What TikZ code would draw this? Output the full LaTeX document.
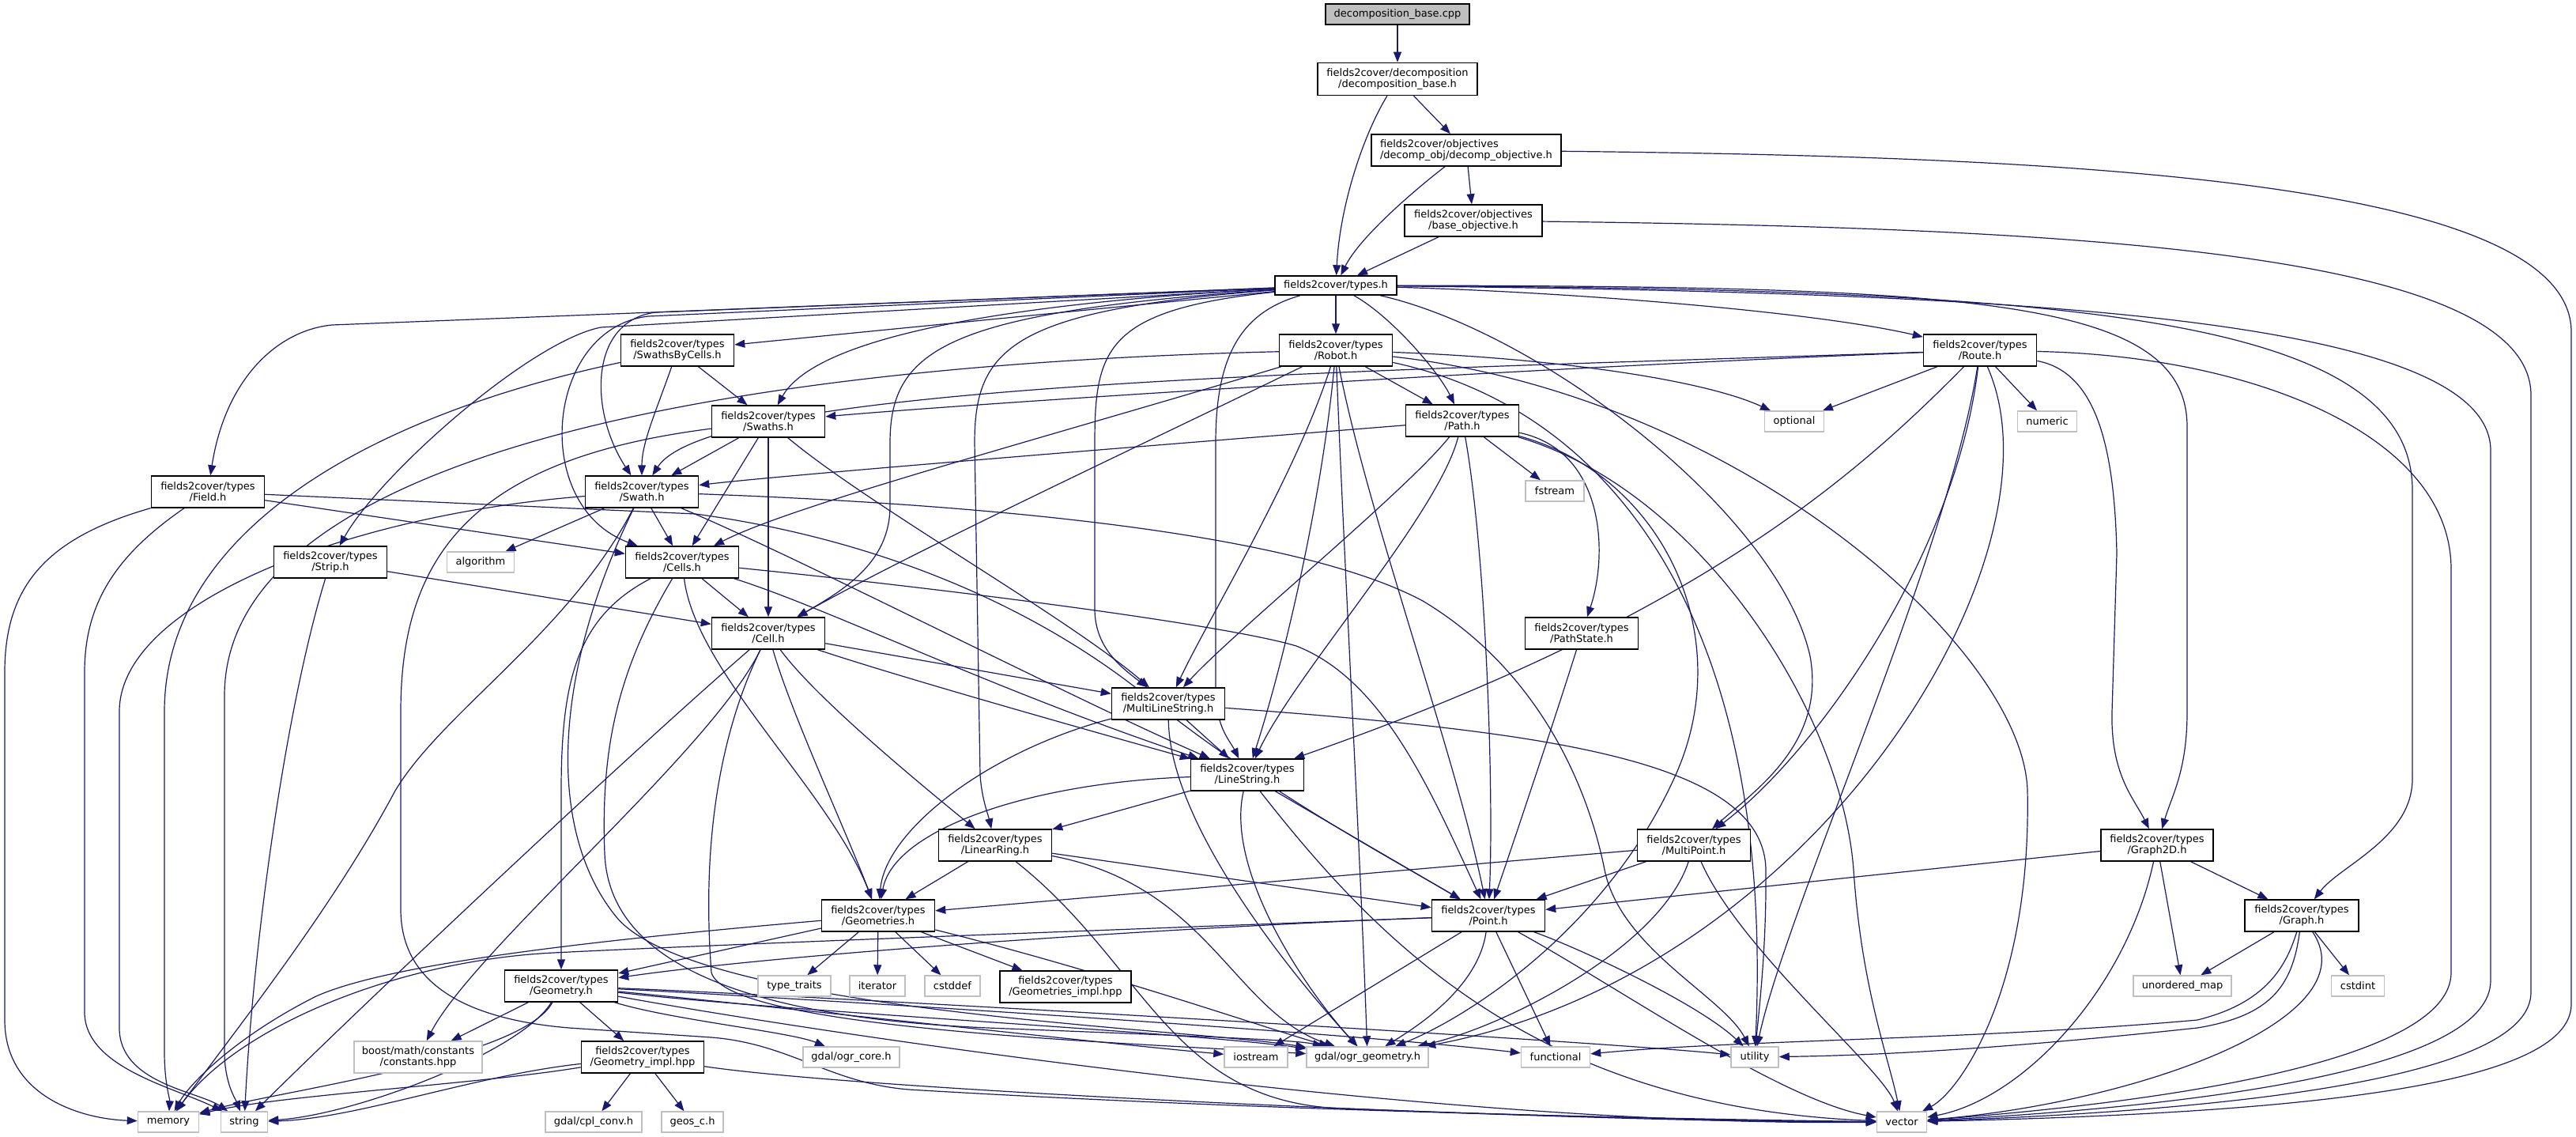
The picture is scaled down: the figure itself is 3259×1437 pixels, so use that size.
\documentclass[tikz,border=0pt]{standalone}
\usepackage{fontspec}
\setmainfont{DejaVu Sans}
\usetikzlibrary{arrows.meta}
\definecolor{edgeblue}{HTML}{191970}
\definecolor{extgray}{HTML}{BFBFBF}
\newcommand\nodefont{\fontsize{13pt}{14.5pt}\selectfont}
\pgfdeclarelayer{edgelayer}
\pgfsetlayers{edgelayer,main}
\begin{document}
\begin{tikzpicture}[x=1pt,y=-1pt,
  hdr/.style={draw=black,line width=1.5pt,fill=white,inner sep=0pt,minimum width=143pt,minimum height=40pt,align=center,font=\nodefont},
  ext/.style={draw=extgray,line width=1.5pt,fill=white,inner sep=0pt,minimum height=26pt,align=center,font=\nodefont},
  dep/.style={draw=edgeblue,line width=1.2pt,-{Triangle[length=13pt,width=10pt]}}]
\useasboundingbox (0,0) rectangle (3259,1437);
% nodes
\node[hdr,fill=extgray,minimum width=182pt,minimum height=26pt] (cpp) at (1768,18) {decomposition\_base.cpp};
\node[hdr,minimum width=202pt,minimum height=41pt] (dbh) at (1768,100) {fields2cover/decomposition\\/decomposition\_base.h};
\node[hdr,minimum width=240pt,align=left] (dobj) at (1855,190) {fields2cover/objectives\\/decomp\_obj/decomp\_objective.h};
\node[hdr,minimum width=174pt] (bobj) at (1864,279) {fields2cover/objectives\\/base\_objective.h};
\node[hdr,minimum width=154pt,minimum height=24pt] (types) at (1690,361) {fields2cover/types.h};
\node[hdr] (robot) at (1690,443) {fields2cover/types\\/Robot.h};
\node[hdr] (pth) at (1850,532) {fields2cover/types\\/Path.h};
\node[ext,minimum width=74pt] (fstream) at (1967,621) {fstream};
\node[hdr] (sbc) at (857,443) {fields2cover/types\\/SwathsByCells.h};
\node[hdr] (swaths) at (972,533) {fields2cover/types\\/Swaths.h};
\node[hdr] (field) at (263,622) {fields2cover/types\\/Field.h};
\node[hdr] (swath) at (812,622) {fields2cover/types\\/Swath.h};
\node[hdr] (strip) at (418,711) {fields2cover/types\\/Strip.h};
\node[ext,minimum width=85pt] (algorithm) at (608,711) {algorithm};
\node[hdr] (cells) at (863,711) {fields2cover/types\\/Cells.h};
\node[hdr] (cell) at (972,801) {fields2cover/types\\/Cell.h};
\node[hdr] (route) at (2505,443) {fields2cover/types\\/Route.h};
\node[ext,minimum width=75pt] (optional) at (2270,533) {optional};
\node[ext,minimum width=75pt] (numeric) at (2590,533) {numeric};
\node[hdr] (mls) at (1478,890) {fields2cover/types\\/MultiLineString.h};
\node[hdr] (pathstate) at (2001,801) {fields2cover/types\\/PathState.h};
\node[hdr] (ls) at (1578,980) {fields2cover/types\\/LineString.h};
\node[hdr] (lr) at (1259,1069) {fields2cover/types\\/LinearRing.h};
\node[hdr] (mp) at (2143,1069) {fields2cover/types\\/MultiPoint.h};
\node[hdr] (geoms) at (1111,1158) {fields2cover/types\\/Geometries.h};
\node[hdr] (point) at (1883,1158) {fields2cover/types\\/Point.h};
\node[ext,minimum width=92pt] (typetraits) at (1005,1247) {type\_traits};
\node[ext,minimum width=70pt] (iterator) at (1110,1247) {iterator};
\node[ext,minimum width=70pt] (cstddef) at (1205,1247) {cstddef};
\node[hdr,minimum width=166pt] (gimpl) at (1348,1248) {fields2cover/types\\/Geometries\_impl.hpp};
\node[ext,minimum width=122pt] (ogrcore) at (1077,1337) {gdal/ogr\_core.h};
\node[ext,minimum width=80pt] (iostream) at (1589,1337) {iostream};
\node[ext,minimum width=154pt] (ogrgeom) at (1730,1337) {gdal/ogr\_geometry.h};
\node[ext,minimum width=87pt] (functional) at (1968,1337) {functional};
\node[ext,minimum width=60pt] (util) at (2220,1337) {utility};
\node[ext,minimum width=63pt] (vec) at (2406,1419) {vector};
\node[hdr,minimum width=142pt] (graph2d) at (2729,1069) {fields2cover/types\\/Graph2D.h};
\node[hdr,minimum width=144pt] (graph) at (2912,1158) {fields2cover/types\\/Graph.h};
\node[ext,minimum width=124pt] (umap) at (2761,1247) {unordered\_map};
\node[ext,minimum width=67pt] (cstdint) at (2983,1247) {cstdint};
\node[hdr] (geometry) at (710,1247) {fields2cover/types\\/Geometry.h};
\node[ext,minimum width=162pt,minimum height=40pt] (boost) at (529,1337) {boost/math/constants\\/constants.hpp};
\node[hdr,minimum width=155pt] (gimplhpp) at (813,1337) {fields2cover/types\\/Geometry\_impl.hpp};
\node[ext,minimum width=77pt] (mem) at (213,1419) {memory};
\node[ext,minimum width=59pt] (strg) at (309,1419) {string};
\node[ext,minimum width=122pt] (cplconv) at (751,1419) {gdal/cpl\_conv.h};
\node[ext,minimum width=78pt] (geosc) at (876,1419) {geos\_c.h};
\begin{pgfonlayer}{edgelayer}
\fill[white] (0,0) rectangle (3259,1437);
% top
\draw[dep] (cpp) -- (dbh);
\draw[dep] (dbh) .. controls (1725,170) and (1695,260) .. (types);
\draw[dep] (dbh) -- (dobj);
\draw[dep] (dobj) .. controls (1790,240) and (1720,300) .. (types);
\draw[dep] (dobj) -- (bobj);
\draw[dep] (bobj) -- (types);
\draw[dep] (dobj) .. controls (2600,198) and (3253,225) .. (3253,420) -- (3253,1270) .. controls (3253,1375) and (2900,1408) .. (vec);
\draw[dep] (bobj) .. controls (2600,288) and (3202,315) .. (3202,500) -- (3202,1255) .. controls (3202,1360) and (2850,1403) .. (vec);
% types
\draw[dep] (types) -- (robot);
\draw[dep] (types) .. controls (1760,400) and (1820,470) .. (pth);
\draw[dep] (types) -- (420,411) .. controls (350,418) and (285,480) .. (field);
\draw[dep] (types) -- (sbc);
\draw[dep] (types) .. controls (1250,385) and (1030,430) .. (swaths);
\draw[dep] (types) -- (830,395) .. controls (745,405) and (745,520) .. (swath);
\draw[dep] (types) -- (760,414) .. controls (670,432) and (480,600) .. (strip);
\draw[dep] (types) -- (820,400) .. controls (690,415) and (670,640) .. (cells);
\draw[dep] (types) .. controls (1200,395) and (1126,440) .. (1126,560) -- (1126,640) .. controls (1126,710) and (1070,745) .. (cell);
\draw[dep] (types) .. controls (1400,392) and (1385,440) .. (1385,560) -- (1385,770) .. controls (1385,820) and (1420,845) .. (mls);
\draw[dep] (types) .. controls (1570,395) and (1538,450) .. (1538,560) -- (1538,870) .. controls (1538,920) and (1555,935) .. (ls);
\draw[dep] (types) .. controls (1280,392) and (1233,440) .. (1233,560) -- (1240,980) .. controls (1242,1010) and (1250,1030) .. (lr);
\draw[dep] (types) .. controls (1950,420) and (2250,650) .. (2290,830) .. controls (2310,940) and (2220,1000) .. (mp);
\draw[dep] (types) .. controls (2000,370) and (2300,395) .. (route);
\draw[dep] (types) .. controls (2500,362) and (2767,378) .. (2767,540) -- (2767,900) .. controls (2767,975) and (2748,1005) .. (graph2d);
\draw[dep] (types) .. controls (2600,366) and (3052,395) .. (3052,620) -- (3052,985) .. controls (3052,1060) and (2960,1095) .. (graph);
\draw[dep] (types) .. controls (2550,370) and (3151,400) .. (3151,570) -- (3151,1240) .. controls (3151,1350) and (2800,1398) .. (vec);
% robot
\draw[dep] (robot) -- (pth);
\draw[dep] (robot) .. controls (1300,560) and (1000,640) .. (cells);
\draw[dep] (robot) .. controls (1450,560) and (1150,700) .. (cell);
\draw[dep] (robot) .. controls (1640,600) and (1530,780) .. (mls);
\draw[dep] (robot) .. controls (1670,650) and (1620,850) .. (ls);
\draw[dep] (robot) .. controls (1730,650) and (1840,950) .. (point);
\draw[dep] (robot) .. controls (1700,700) and (1722,1100) .. (ogrgeom);
\draw[dep] (robot) .. controls (1950,452) and (2150,478) .. (optional);
\draw[dep] (robot) .. controls (2050,520) and (2245,800) .. (util);
\draw[dep] (robot) .. controls (2200,500) and (2560,820) .. (2565,1000) .. controls (2570,1250) and (2480,1380) .. (vec);
\draw[dep] (robot) .. controls (900,462) and (284,580) .. (284,880) -- (284,1330) .. controls (284,1370) and (298,1390) .. (strg);
% path
\draw[dep] (pth) -- (fstream);
\draw[dep] (pth) .. controls (1500,560) and (1000,600) .. (swath);
\draw[dep] (pth) .. controls (1780,620) and (1560,800) .. (mls);
\draw[dep] (pth) .. controls (1820,650) and (1640,850) .. (ls);
\draw[dep] (pth) .. controls (1880,700) and (1890,1000) .. (point);
\draw[dep] (pth) .. controls (2030,570) and (2035,700) .. (pathstate);
\draw[dep] (pth) .. controls (2100,600) and (2200,800) .. (2120,980) .. controls (2030,1180) and (1850,1290) .. (ogrgeom);
\draw[dep] (pth) .. controls (2150,620) and (2330,900) .. (2345,1100) .. controls (2355,1250) and (2390,1340) .. (vec);
\draw[dep] (pathstate) .. controls (1970,900) and (1920,1050) .. (point);
% swaths by cells
\draw[dep] (sbc) -- (swaths);
\draw[dep] (sbc) .. controls (830,520) and (812,560) .. (swath);
\draw[dep] (sbc) .. controls (450,530) and (208,680) .. (208,900) -- (208,1330) .. controls (208,1370) and (215,1390) .. (mem);
% swaths
\draw[dep] (swaths) -- (swath);
\draw[dep] (swaths) -- (cells);
\draw[dep] (swaths) -- (cell);
\draw[dep] (swaths) .. controls (1100,640) and (1350,780) .. (mls);
\draw[dep] (swaths) .. controls (600,580) and (507,700) .. (507,900) -- (507,1150) .. controls (507,1250) and (600,1290) .. (720,1300) -- (900,1312) .. controls (1000,1320) and (1050,1370) .. (1150,1378) .. controls (1600,1405) and (2100,1415) .. (vec);
% swath
\draw[dep] (swath) -- (algorithm);
\draw[dep] (swath) -- (cells);
\draw[dep] (swath) .. controls (1000,700) and (1350,880) .. (ls);
\draw[dep] (swath) .. controls (1300,640) and (1650,680) .. (1800,760) .. controls (1950,850) and (2010,1000) .. (2030,1100) .. controls (2050,1200) and (2180,1260) .. (util);
\draw[dep] (swath) .. controls (450,650) and (151,760) .. (151,900) -- (151,1300) .. controls (151,1370) and (250,1380) .. (strg);
\draw[dep] (swath) .. controls (720,800) and (560,900) .. (500,1000) .. controls (420,1150) and (300,1300) .. (mem);
\draw[dep] (swath) .. controls (700,850) and (690,1050) .. (780,1160) .. controls (880,1280) and (1500,1300) .. (ogrgeom);
% strip
\draw[dep] (strip) -- (cell);
\draw[dep] (strip) .. controls (360,900) and (320,1200) .. (strg);
% field
\draw[dep] (field) -- (cells);
\draw[dep] (field) .. controls (60,680) and (6,740) .. (6,850) -- (6,1290) .. controls (6,1385) and (100,1415) .. (mem);
\draw[dep] (field) .. controls (150,700) and (107,760) .. (107,850) -- (107,1280) .. controls (107,1350) and (220,1375) .. (strg);
\draw[dep] (field) -- (880,650) .. controls (1100,680) and (1300,760) .. (1450,880) .. controls (1600,1000) and (1750,1080) .. (point);
% cells
\draw[dep] (cells) -- (cell);
\draw[dep] (cells) .. controls (730,780) and (710,860) .. (710,1000) -- (geometry);
\draw[dep] (cells) .. controls (780,850) and (760,950) .. (765,1080) .. controls (770,1200) and (900,1285) .. (1250,1300) .. controls (1500,1310) and (1640,1315) .. (ogrgeom);
\draw[dep] (cells) .. controls (880,850) and (1050,1000) .. (geoms);
\draw[dep] (cells) .. controls (1050,770) and (1250,870) .. (ls);
\draw[dep] (cells) .. controls (1200,745) and (1550,790) .. (1640,817) .. controls (1750,860) and (1810,1000) .. (point);
% cell
\draw[dep] (cell) .. controls (1000,900) and (1070,1050) .. (geoms);
\draw[dep] (cell) .. controls (1030,880) and (1150,980) .. (lr);
\draw[dep] (cell) .. controls (1150,860) and (1400,930) .. (ls);
\draw[dep] (cell) -- (mls);
\draw[dep] (cell) .. controls (900,950) and (600,1200) .. (boost);
\draw[dep] (cell) .. controls (800,950) and (480,1250) .. (strg);
\draw[dep] (cell) .. controls (900,950) and (890,1100) .. (900,1230) .. controls (920,1300) and (1400,1318) .. (ogrgeom);
% multilinestring
\draw[dep] (mls) -- (ls);
\draw[dep] (mls) .. controls (1250,950) and (1120,1050) .. (geoms);
\draw[dep] (mls) .. controls (1480,1050) and (1650,1250) .. (ogrgeom);
\draw[dep] (mls) .. controls (1950,925) and (2232,960) .. (2234,1100) .. controls (2235,1200) and (2225,1280) .. (util);
% linestring
\draw[dep] (ls) -- (point);
\draw[dep] (ls) .. controls (1300,990) and (1130,1050) .. (geoms);
\draw[dep] (ls) -- (lr);
\draw[dep] (ls) .. controls (1550,1100) and (1650,1250) .. (ogrgeom);
\draw[dep] (ls) .. controls (1750,1200) and (1950,1400) .. (vec);
% linearring
\draw[dep] (lr) -- (geoms);
\draw[dep] (lr) -- (point);
\draw[dep] (lr) .. controls (1530,1120) and (1560,1280) .. (ogrgeom);
\draw[dep] (lr) .. controls (1450,1220) and (1480,1395) .. (1700,1402) .. controls (1900,1410) and (2200,1418) .. (vec);
% multipoint
\draw[dep] (mp) -- (geoms);
\draw[dep] (mp) -- (point);
\draw[dep] (mp) .. controls (2100,1200) and (1900,1300) .. (ogrgeom);
\draw[dep] (mp) .. controls (2200,1200) and (2380,1350) .. (vec);
% point
\draw[dep] (point) .. controls (1500,1172) and (1000,1205) .. (geometry);
\draw[dep] (point) .. controls (1300,1180) and (900,1195) .. (700,1205) .. controls (500,1215) and (300,1300) .. (mem);
\draw[dep] (point) -- (iostream);
\draw[dep] (point) .. controls (1870,1250) and (1790,1300) .. (ogrgeom);
\draw[dep] (point) -- (functional);
\draw[dep] (point) .. controls (2000,1200) and (2150,1270) .. (util);
\draw[dep] (point) .. controls (2050,1250) and (2250,1390) .. (vec);
% geometries
\draw[dep] (geoms) -- (typetraits);
\draw[dep] (geoms) -- (iterator);
\draw[dep] (geoms) -- (cstddef);
\draw[dep] (geoms) -- (gimpl);
\draw[dep] (geoms) -- (geometry);
\draw[dep] (geoms) .. controls (1400,1230) and (1600,1300) .. (ogrgeom);
\draw[dep] (geoms) .. controls (800,1185) and (500,1215) .. (400,1260) .. controls (300,1310) and (240,1370) .. (mem);
% geometry
\draw[dep] (geometry) -- (boost);
\draw[dep] (geometry) -- (gimplhpp);
\draw[dep] (geometry) .. controls (660,1330) and (450,1410) .. (strg);
\draw[dep] (geometry) .. controls (660,1340) and (350,1380) .. (mem);
\draw[dep] (geometry) .. controls (850,1290) and (1000,1305) .. (ogrcore);
\draw[dep] (geometry) .. controls (1000,1280) and (1500,1305) .. (ogrgeom);
\draw[dep] (geometry) .. controls (1000,1275) and (1400,1320) .. (iostream);
\draw[dep] (geometry) .. controls (1000,1262) and (1700,1305) .. (functional);
\draw[dep] (geometry) .. controls (1000,1258) and (2000,1315) .. (util);
\draw[dep] (geometry) .. controls (1000,1300) and (1800,1425) .. (vec);
% geometry impl
\draw[dep] (gimplhpp) -- (cplconv);
\draw[dep] (gimplhpp) -- (geosc);
\draw[dep] (gimplhpp) .. controls (600,1360) and (450,1415) .. (strg);
\draw[dep] (gimplhpp) .. controls (600,1372) and (350,1385) .. (mem);
\draw[dep] (gimplhpp) .. controls (1100,1380) and (2000,1420) .. (vec);
% graph2d
\draw[dep] (graph2d) -- (point);
\draw[dep] (graph2d) -- (umap);
\draw[dep] (graph2d) -- (graph);
\draw[dep] (graph2d) .. controls (2690,1250) and (2560,1390) .. (vec);
% graph
\draw[dep] (graph) -- (umap);
\draw[dep] (graph) -- (cstdint);
\draw[dep] (graph) .. controls (2890,1230) and (2860,1270) .. (2780,1290) .. controls (2500,1315) and (2200,1315) .. (functional);
\draw[dep] (graph) .. controls (2900,1250) and (2870,1285) .. (2780,1300) .. controls (2500,1330) and (2350,1335) .. (util);
\draw[dep] (graph) .. controls (3000,1290) and (2700,1395) .. (vec);
% route
\draw[dep] (route) -- (optional);
\draw[dep] (route) -- (numeric);
\draw[dep] (route) .. controls (2000,462) and (1300,505) .. (swaths);
\draw[dep] (route) .. controls (1700,470) and (900,485) .. (swath);
\draw[dep] (route) .. controls (2350,600) and (2150,780) .. (ls);
\draw[dep] (route) .. controls (2475,700) and (2300,950) .. (mp);
\draw[dep] (route) .. controls (2650,470) and (2675,560) .. (2678,700) -- (2672,900) .. controls (2670,980) and (2700,1010) .. (graph2d);
\draw[dep] (route) .. controls (2850,450) and (3101,550) .. (3101,720) -- (3101,1230) .. controls (3101,1340) and (2750,1393) .. (vec);
\draw[dep] (route) .. controls (2465,700) and (2260,1150) .. (util);
\draw[dep] (route) .. controls (2620,700) and (2300,1230) .. (ogrgeom);
\end{pgfonlayer}
\end{tikzpicture}
\end{document}
